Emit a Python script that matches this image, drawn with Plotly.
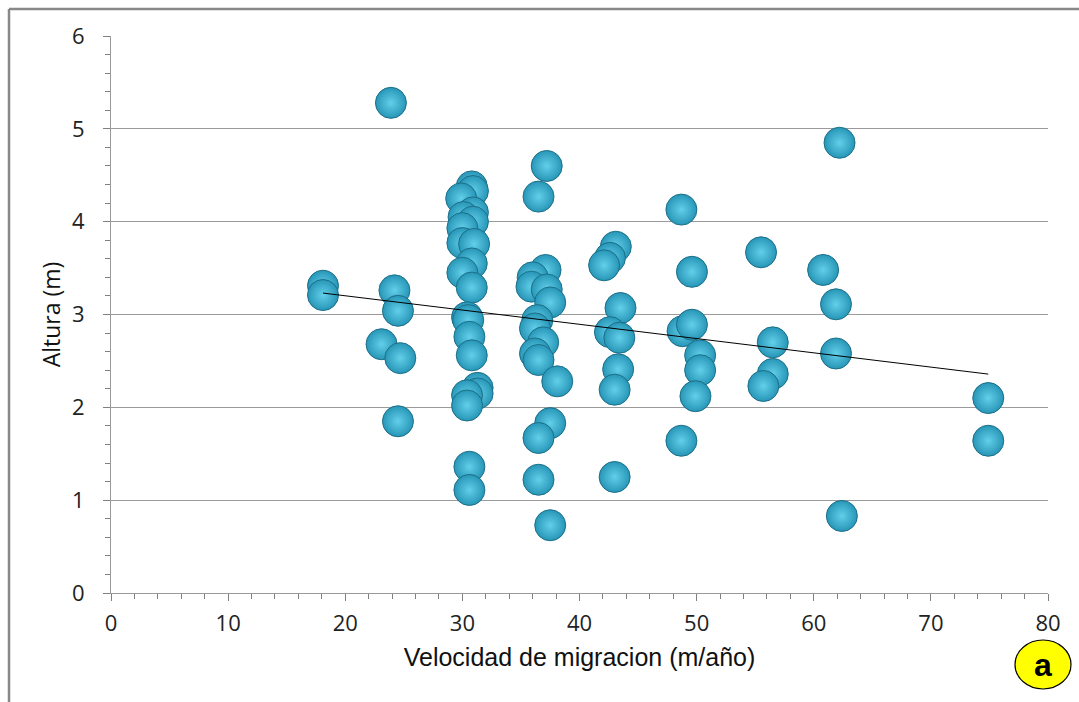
import numpy as np
import plotly.graph_objects as go

# Migration speed (m/año) and dune height (m)
velocidad = [
    23.9, 18.1, 18.1, 24.2, 24.5, 23.1, 24.7, 24.5,
    30.8, 30.9, 29.9, 30.9, 30.1, 30.9, 30.0, 30.0, 31.0, 30.8, 30.0, 30.8,
    30.4, 30.5, 30.6, 30.8, 31.3, 31.3, 30.4, 30.4, 30.6, 30.6,
    37.2, 36.5, 37.1, 36.0, 35.9, 37.2, 37.5, 36.4, 36.2, 36.9, 36.2, 36.5,
    38.1, 37.5, 36.5, 36.5, 37.5,
    43.1, 42.6, 42.1, 43.5, 42.6, 43.4, 43.3, 43.0, 43.0,
    48.7, 49.6, 48.8, 49.6, 50.3, 50.3, 49.9, 48.7,
    55.5, 56.5, 56.5, 55.7,
    62.2, 60.8, 61.9, 61.9, 62.4, 74.9, 74.9,
]
altura = [
    5.28, 3.31, 3.21, 3.26, 3.04, 2.68, 2.53, 1.85,
    4.38, 4.33, 4.25, 4.10, 4.05, 4.00, 3.93, 3.77, 3.76, 3.55, 3.45, 3.29,
    2.97, 2.94, 2.76, 2.56, 2.21, 2.15, 2.13, 2.02, 1.36, 1.11,
    4.60, 4.27, 3.48, 3.40, 3.30, 3.27, 3.13, 2.94, 2.85, 2.70, 2.58, 2.51,
    2.28, 1.83, 1.67, 1.22, 0.73,
    3.73, 3.61, 3.53, 3.07, 2.81, 2.75, 2.41, 2.19, 1.25,
    4.13, 3.46, 2.82, 2.89, 2.56, 2.40, 2.12, 1.64,
    3.67, 2.70, 2.36, 2.23,
    4.85, 3.48, 3.11, 2.58, 0.83, 2.10, 1.64,
]

x_ticks = [0, 10, 20, 30, 40, 50, 60, 70, 80]
y_ticks = [0, 1, 2, 3, 4, 5, 6]

# Least-squares linear trend
slope, intercept = np.polyfit(velocidad, altura, 1)
trend_x = [min(velocidad), max(velocidad)]
trend_y = [slope * v + intercept for v in trend_x]

fig = go.Figure()

fig.add_trace(go.Scatter(
    x=velocidad, y=altura, mode="markers",
    marker=dict(
        size=31, color="#2795b6",
        gradient=dict(type="radial", color="#62d0ea"),
        line=dict(width=1, color="#1d6f88"),
    ),
    showlegend=False, hoverinfo="x+y",
))

fig.add_trace(go.Scatter(
    x=trend_x, y=trend_y, mode="lines",
    line=dict(color="black", width=1),
    showlegend=False, hoverinfo="skip",
))

grey = "#9a9a9a"
tick_grey = "#808080"
tick_font = dict(family="Open Sans, sans-serif", size=22, color="#222")

fig.update_xaxes(
    range=[0, 80], tickvals=x_ticks, ticktext=[str(v) for v in x_ticks],
    showgrid=False, zeroline=False,
    showline=True, linecolor=grey, linewidth=1,
    ticks="outside", ticklen=7, tickcolor=tick_grey, tickwidth=1,
    minor=dict(tick0=0, dtick=2, ticks="outside", ticklen=5, tickcolor=tick_grey,
               tickwidth=1, showgrid=False),
    tickfont=tick_font, ticklabelstandoff=4,
    title=dict(text="Velocidad de migracion (m/año)",
               font=dict(family="Liberation Sans, Arial, sans-serif", size=25, color="#111"),
               standoff=12),
)
fig.update_yaxes(
    range=[0, 6], tickvals=y_ticks, ticktext=[str(v) for v in y_ticks],
    showgrid=True, gridcolor=grey, gridwidth=1, zeroline=False,
    showline=True, linecolor=grey, linewidth=1,
    ticks="outside", ticklen=7, tickcolor=tick_grey, tickwidth=1,
    minor=dict(tick0=0, dtick=0.2, ticks="outside", ticklen=5, tickcolor=tick_grey,
               tickwidth=1, showgrid=False),
    tickfont=tick_font, ticklabelstandoff=14,
    title=dict(text="Altura (m)",
               font=dict(family="Open Sans, sans-serif", size=23, color="#111"),
               standoff=4),
)

W, H = 1079, 702
L, R, T, B = 111, 31, 36, 109
pw, ph = W - L - R, H - T - B


def px(xp):
    return (xp - L) / pw


def py(yp):
    return (H - B - yp) / ph


shapes = [
    # outer frame (top and left edges)
    dict(type="line", xref="paper", yref="paper", x0=px(9), x1=px(W + 5), y0=py(9), y1=py(9),
         line=dict(color="#888888", width=2.5), layer="above"),
    dict(type="line", xref="paper", yref="paper", x0=px(9), x1=px(9), y0=py(9), y1=py(H + 5),
         line=dict(color="#888888", width=2.5), layer="above"),
    # panel badge
    dict(type="circle", xref="paper", yref="paper", x0=px(1015), x1=px(1071), y0=py(640), y1=py(689),
         fillcolor="#ffff00", line=dict(color="black", width=1.2), layer="above"),
]

fig.update_layout(
    width=W, height=H,
    margin=dict(l=L, r=R, t=T, b=B, pad=0),
    paper_bgcolor="white", plot_bgcolor="white",
    shapes=shapes,
    annotations=[dict(text="<b>a</b>", xref="paper", yref="paper", x=px(1043), y=py(665),
                      xanchor="center", yanchor="middle", showarrow=False,
                      font=dict(family="Liberation Sans, Arial, sans-serif", size=32, color="black"))],
)

fig.write_html("out.html")
